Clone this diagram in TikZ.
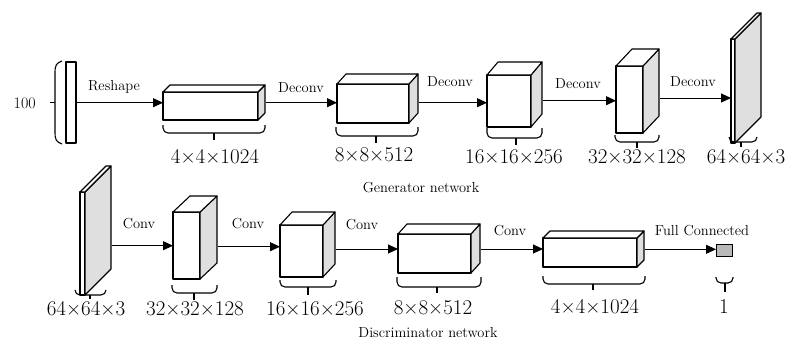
\documentclass[tikz,border=0pt]{standalone}
\usetikzlibrary{arrows.meta}
\tikzset{
  face/.style={draw, fill=white, line width=1.1pt, line join=round, inner sep=0pt, outer sep=0pt},
  sideface/.style={draw, fill=gray!25, line width=1.1pt, line join=round},
  topface/.style={draw, fill=white, line width=1.1pt, line join=round},
  arr/.style={line width=0.9pt, -{Triangle[length=10pt,width=9pt]}},
  brc/.style={line width=1.1pt, rounded corners=5pt},
  thin/.style={line width=1.1pt},
  lbl/.style={font=\fontsize{14.5}{16}\selectfont, anchor=base, inner sep=0pt},
  dimlbl/.style={font=\fontsize{21}{24}\selectfont, anchor=base, inner sep=0pt},
}
% name, x, y (front top-left), w, h, dx, dy, arrow y
\newcommand\cub[8]{%
  \node[face, minimum width=#4pt, minimum height=#5pt, anchor=north west] (#1) at (#2,#3) {};
  \draw[sideface] (#1.north east) -- ++(#6,-#7) -- ++(0,#5) -- (#1.south east) -- cycle;
  \draw[topface] (#1.north west) -- ++(#6,-#7) -- ++(#4,0) -- (#1.north east) -- cycle;
  \coordinate (#1-o) at (#2+#4+#6+1,#8);
}
% x1, x2, ytop, ybottom, xtick, ytick
\newcommand\bracedim[6]{%
  \draw[brc] (#1,#3) -- (#1,#4) -- (#2,#4) -- (#2,#3);
  \draw[thin] (#5,#4) -- (#5,#6);
}
\begin{document}
\begin{tikzpicture}[x=1pt,y=-1pt]
\useasboundingbox (0,0) rectangle (792,340);

% ---------------- Generator ----------------
\node[font=\fontsize{16}{18}\selectfont, anchor=base, inner sep=0pt] (in) at (24.7,108.3) {100};
\draw[thin] (62,61) .. controls (56,63) and (55,66) .. (55,72) -- (55,133) .. controls (55,139) and (56,142) .. (62,144);
\coordinate (par) at (55,102.7);
\draw[thin] (par) -- ++(-5,0);
\node[face, minimum width=10pt, minimum height=81pt, anchor=north west] (bar) at (66,62) {};
\coordinate (bar-o) at (76,102.7);

\cub{g1}{163}{92}{95}{28}{7}{7}{102.7}
\cub{g2}{337}{84}{72}{39}{9}{10}{102.7}
\cub{g3}{487}{75}{44}{52}{11}{13}{100.7}
\cub{g4}{616}{66}{27}{67}{16}{17}{98}
\cub{g5}{731}{39}{4}{104}{26}{26}{98}

\draw[arr] (bar-o) -- (bar-o -| g1.west);
\draw[arr] (g1-o) -- (g1-o -| g2.west);
\draw[arr] (g2-o) -- (g2-o -| g3.west);
\draw[arr] (g3-o) -- (g3-o -| g4.west);
\draw[arr] (g4-o) -- (g4-o -| g5.west);

\node[lbl] (t1) at (114,90) {Reshape};
\node[lbl] (t2) at (301,92) {Deconv};
\node[lbl] (t3) at (450,86.7) {Deconv};
\node[lbl] (t4) at (578,88) {Deconv};
\node[lbl] (t5) at (693,86.7) {Deconv};

\bracedim{163}{265}{125}{133}{214}{140}
\bracedim{336}{418}{127}{136}{376}{143}
\bracedim{487}{542}{128}{138}{516}{145}
\bracedim{615}{659}{135}{142}{637}{148}
\bracedim{729}{757}{137}{142}{741}{147}

\node[dimlbl] (s1) at (215,163.3) {4×4×1024};
\node[dimlbl] (s2) at (374,161.7) {8×8×512};
\node[dimlbl] (s3) at (514,163.3) {16×16×256};
\node[dimlbl] (s4) at (637,163.3) {32×32×128};
\node[dimlbl] (s5) at (746,163.3) {64×64×3};

\node[lbl] (gn) at (421,192.3) {Generator network};

% ---------------- Discriminator ----------------
\cub{d0}{80}{192}{5}{103}{26}{26}{245.7}
\cub{d1}{173}{212}{27}{67}{17}{16}{246.7}
\cub{d2}{280}{225}{43}{52}{12}{13}{249}
\cub{d3}{398}{234}{73}{39}{9}{10}{249}
\cub{d4}{543}{238}{94}{29}{7}{7}{249.3}
\node[draw, fill=gray!55, line width=1.1pt, inner sep=0pt, minimum width=16pt, minimum height=12pt, anchor=north west] (sq) at (716,244) {};

\draw[arr] (d0-o) -- (d0-o -| d1.west);
\draw[arr] (d1-o) -- (d1-o -| d2.west);
\draw[arr] (d2-o) -- (d2-o -| d3.west);
\draw[arr] (d3-o) -- (d3-o -| d4.west);
\draw[arr] (d4-o) -- (d4-o -| sq.west);

\node[lbl] (c1) at (139,228) {Conv};
\node[lbl] (c2) at (248,228) {Conv};
\node[lbl] (c3) at (362,229) {Conv};
\node[lbl] (c4) at (510,235) {Conv};
\node[lbl] (fc) at (702,235) {Full Connected};

\bracedim{75}{106}{290}{295}{90}{299}
\bracedim{172}{217}{285}{293}{194}{300}
\bracedim{280}{336}{280}{287}{308}{295}
\bracedim{397}{481}{277}{287}{437}{293}
\bracedim{543}{645}{276}{284}{593}{290}
\bracedim{716}{733}{277}{283}{725}{292}

\node[dimlbl] (e0) at (86,315.7) {64×64×3};
\node[dimlbl] (e1) at (195,315.7) {32×32×128};
\node[dimlbl] (e2) at (315,315.7) {16×16×256};
\node[dimlbl] (e3) at (433,314.3) {8×8×512};
\node[dimlbl] (e4) at (595,313.3) {4×4×1024};
\node[dimlbl] (e5) at (724,313.3) {1};

\node[lbl] (dn) at (428,337) {Discriminator network};
\end{tikzpicture}
\end{document}
